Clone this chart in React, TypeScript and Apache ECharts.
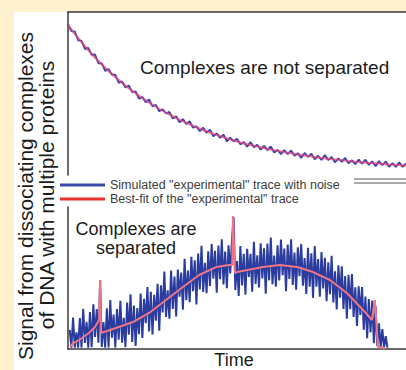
import React, { useEffect, useRef } from "react";
import * as echarts from "echarts";

// ---- data (time in arbitrary units 0..100, signal in arbitrary units 0..100) ----
const topFitTime = [0, 5, 10, 15, 20, 25, 30, 35, 40, 45, 50, 55, 60, 65, 70, 75, 80, 85, 90, 95, 100];
const topFitSignal = [92.0, 79.0, 67.8, 58.2, 50.1, 43.1, 37.1, 32.0, 27.6, 23.9, 20.6, 17.9, 15.6, 13.7, 12.0, 10.5, 9.3, 8.2, 7.3, 6.5, 5.8];

// noisy trace, one sample per time unit starting at 0
const topNoisySignal = [
  92.5, 88.3, 88.0, 82.7, 82.3, 77.3, 78.0, 73.8, 73.9, 68.6,
  68.5, 63.9, 65.0, 61.5, 61.5, 56.6, 57.4, 53.7, 54.9, 50.8,
  51.3, 46.8, 47.8, 44.6, 46.3, 42.1, 43.0, 39.1, 40.3, 37.8,
  38.7, 34.7, 36.0, 32.3, 34.3, 31.3, 32.9, 29.0, 29.8, 26.9,
  29.0, 25.9, 27.8, 23.7, 25.5, 22.8, 24.7, 20.7, 22.9, 20.6,
  22.2, 18.8, 20.2, 17.3, 20.2, 17.0, 18.6, 15.5, 17.9, 15.3,
  17.5, 13.8, 15.4, 12.8, 15.3, 12.8, 15.0, 11.8, 13.4, 10.5,
  13.5, 11.1, 13.0, 9.6, 11.8, 9.2, 12.2, 9.2, 11.0, 7.8,
  10.2, 8.0, 10.5, 7.2, 9.0, 6.6, 9.4, 6.9, 9.4, 6.2,
  8.4, 5.4, 8.5, 6.1, 8.2, 5.0, 7.3, 5.0, 7.7, 5.0,
  7.0,
];

// noisy trace of the separated case, sampled every 0.5 time units from 0.5
const bottomNoisyStart = 0.5;
const bottomNoisyStep = 0.5;
const bottomNoisySignal = [
  13.5, 1, 22.2, 1, 11.7, 1, 21.8, 1, 28.3, 4.2,
  19.1, 1, 26.0, 1.2, 31.4, 8.5, 28.2, 4.5, 48.5, 1.5,
  18.9, 1, 28.7, 1, 34.5, 7.9, 24.3, 1, 28.1, 6.6,
  34.0, 4.4, 21.9, 1.3, 32.7, 10.1, 38.6, 5.0, 30.6, 2.2,
  28.9, 10.5, 39.1, 7.8, 35.4, 18.1, 43.7, 12.4, 40.3, 10.2,
  38.1, 20.0, 46.0, 12.9, 44.8, 25.7, 54.6, 22.5, 41.4, 21.3,
  55.3, 28.2, 51.1, 23.0, 55.9, 36.8, 53.8, 27.7, 63.5, 34.4,
  55.2, 33.0, 64.9, 40.7, 62.5, 31.3, 67.2, 42.0, 72.6, 40.1,
  60.7, 39.3, 68.8, 44.4, 74.0, 49.6, 69.1, 39.7, 72.9, 49.1,
  77.3, 45.5, 68.7, 42.8, 73.0, 53.2, 76.2, 93.0, 41.5, 62.0,
  37.3, 72.5, 44.8, 67.0, 38.3, 70.5, 50.8, 67.0, 40.3, 75.5,
  45.8, 66.0, 43.3, 74.5, 49.7, 70.9, 39.0, 74.2, 48.3, 78.5,
  45.6, 65.8, 43.9, 73.1, 48.2, 77.1, 52.0, 70.8, 40.7, 73.5,
  49.4, 77.3, 45.1, 68.0, 41.8, 71.7, 51.3, 73.9, 44.5, 64.1,
  38.7, 71.3, 43.9, 67.4, 36.0, 72.5, 43.9, 63.4, 36.8, 68.3,
  42.7, 64.2, 33.7, 61.1, 38.6, 65.7, 32.7, 54.8, 27.9, 59.0,
  36.1, 58.2, 28.2, 51.3, 21.4, 52.2, 28.0, 52.8, 22.6, 43.5,
  16.3, 44.1, 23.9, 43.7, 13.5, 37.0, 7.6, 35.1, 11.7, 34.2,
  4.0, 30.0, 2.0, 18.0, 1.0, 14.0, 1.0, 9.0, 1.0,
];

const bottomFitTime = [0.6, 1.5, 3.3, 6.2, 8.0, 9.2, 9.5, 9.8, 14.2, 19.2, 24.0, 29.0, 34.0, 38.8, 43.8, 47.6, 48.6, 48.8, 49.4, 50.0, 57.7, 62.7, 67.8, 72.5, 77.5, 82.5, 87.3, 89.9, 90.8, 91.7, 93.8];
const bottomFitSignal = [1.5, 4.2, 6.3, 11.3, 15.5, 20.4, 48.6, 11.3, 14.8, 19.0, 25.4, 34.5, 43.7, 52.1, 57.7, 59.2, 59.2, 93.7, 53.5, 54.2, 57.7, 59.2, 57.7, 54.2, 48.6, 39.4, 27.5, 20.4, 34.5, 1.4, 0.7];

const legendNames = ['Simulated "experimental" trace with noise', 'Best-fit of the "experimental" trace'];
const yTitleLines = ["Signal from dissociating complexes", "of DNA with multiple proteins"];
const xTitle = "Time";
const topPanelLabel = "Complexes are not separated";
const bottomPanelLabel = "Complexes are\nseparated";

const FONT = "'Liberation Sans', Arial, Helvetica, sans-serif";

function axisPair(grid: number, pos: "top" | "bottom") {
  const line = { show: true, onZero: false, lineStyle: { color: "#3a3a3a", width: 1.5 } };
  return {
    x: {
      type: "value", gridIndex: grid, min: 0, max: 100, position: pos,
      axisLine: line, axisTick: { show: false }, axisLabel: { show: false }, splitLine: { show: false },
    },
    y: {
      type: "value", gridIndex: grid, min: 0, max: 100,
      axisLine: line, axisTick: { show: false }, axisLabel: { show: false }, splitLine: { show: false },
    },
  };
}

export default function App() {
  const ref = useRef<HTMLDivElement>(null);
  useEffect(() => {
    const chart = echarts.init(ref.current!, null, { renderer: "svg" });
    const a0 = axisPair(0, "top");
    const a1 = axisPair(1, "bottom");
    const txt = (text: string, x: number, y: number, size: number, extra: any = {}) => ({
      type: "text", x, y, z: 20, ...extra,
      style: {
        text, fill: "#1c1c1c", fontSize: size, fontFamily: FONT,
        align: extra.align || "center", verticalAlign: "middle",
        textAlign: extra.align || "center", textVerticalAlign: "middle",
        lineHeight: extra.lineHeight,
      },
    });
    chart.setOption({
      animation: false,
      backgroundColor: "#fdf0cd",
      grid: [
        { left: 68, top: 12, width: 338, height: 163 },
        { left: 68, top: 207, width: 338, height: 142 },
      ],
      xAxis: [a0.x, a1.x],
      yAxis: [a0.y, a1.y],
      legend: {
        orient: "vertical", left: 55, top: 173, itemWidth: 45, itemHeight: 3, itemGap: 0,
        icon: "rect", selectedMode: false,
        textStyle: { fontSize: 12.5, color: "#3c3c3c", fontFamily: FONT, lineHeight: 14 },
        data: [
          { name: legendNames[0], itemStyle: { color: "#3a4aa8" } },
          { name: legendNames[1], itemStyle: { color: "#e5332e" } },
        ],
      },
      graphic: [
        { type: "rect", z: -10, shape: { x: 14, y: 12, width: 392, height: 358 }, style: { fill: "#ffffff" } },
        { type: "line", shape: { x1: 354, y1: 179, x2: 406, y2: 179 }, style: { stroke: "#555", lineWidth: 1 } },
        { type: "line", shape: { x1: 354, y1: 183, x2: 406, y2: 183 }, style: { stroke: "#555", lineWidth: 1 } },
        txt(topPanelLabel, 140, 67, 19, { align: "left" }),
        txt(bottomPanelLabel, 136, 238, 18, { lineHeight: 19 }),
        txt(xTitle, 234, 360, 18),
        txt(yTitleLines[0], 25, 196, 21, { rotation: Math.PI / 2 }),
        txt(yTitleLines[1], 46, 195, 21, { rotation: Math.PI / 2 }),
      ],
      series: [
        {
          type: "line", name: legendNames[0], xAxisIndex: 0, yAxisIndex: 0, symbol: "none", z: 2,
          data: topNoisySignal.map((v, i) => [i, v]),
          lineStyle: { color: "#3445b0", width: 1.9 }, itemStyle: { color: "#3a4aa8" },
        },
        {
          type: "line", name: legendNames[1], xAxisIndex: 0, yAxisIndex: 0, symbol: "none", smooth: true, z: 3,
          data: topFitTime.map((t, i) => [t, topFitSignal[i]]),
          lineStyle: { color: "#e2457a", width: 2, opacity: 0.75 }, itemStyle: { color: "#e5332e" },
        },
        {
          type: "line", name: legendNames[0], xAxisIndex: 1, yAxisIndex: 1, symbol: "none", z: 2,
          data: bottomNoisySignal.map((v, i) => [bottomNoisyStart + i * bottomNoisyStep, v]),
          lineStyle: { color: "#2b3c9f", width: 2 }, itemStyle: { color: "#3a4aa8" },
        },
        {
          type: "line", name: legendNames[1], xAxisIndex: 1, yAxisIndex: 1, symbol: "none", z: 3,
          data: bottomFitTime.map((t, i) => [t, bottomFitSignal[i]]),
          lineStyle: { color: "#f07585", width: 2 }, itemStyle: { color: "#e5332e" },
        },
      ],
    });
    return () => chart.dispose();
  }, []);
  return <div ref={ref} style={{ position: "absolute", left: 0, top: 0, width: 406, height: 370 }} />;
}
